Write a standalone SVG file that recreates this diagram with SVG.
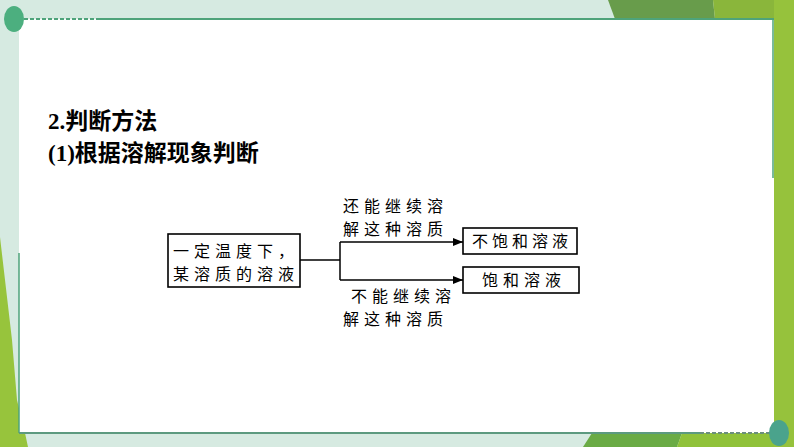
<svg xmlns="http://www.w3.org/2000/svg" width="794" height="447" viewBox="0 0 794 447">
<style>
.title{font-family:"Liberation Serif","Noto Sans CJK SC",serif;font-weight:bold;font-size:23px;fill:#000}
.t{font-family:"Noto Sans CJK SC","Liberation Sans",sans-serif;font-size:16px;fill:#000;letter-spacing:5px}
.box{fill:#fff;stroke:#000;stroke-width:1.6}
.ln{fill:none;stroke:#000;stroke-width:1.5}
.frame{stroke:#4ea37a;stroke-width:2;fill:none}
</style>
<defs>
<marker id="ah" viewBox="0 0 10 8" refX="10" refY="4" markerWidth="10" markerHeight="8" markerUnits="userSpaceOnUse" orient="auto">
<path d="M0,0 L10,4 L0,8 Z" fill="#000"/>
</marker>
</defs>
<g id="background">
<rect x="0" y="0" width="794" height="447" fill="#d6eae1"/>
<polygon points="608,0 713,0 715,19 615,19" fill="#689c4b"/>
<polygon points="713,0 776,0 776,19 715,19" fill="#8ab63b"/>
<polygon points="0,237 12,340 17,400 25,433 28,447 0,447" fill="#97c43c"/>
<polygon points="592,433 682,433 677,447 583,447" fill="#6aab45"/>
<polygon points="682,433 794,433 794,447 677,447" fill="#90c23a"/>
<rect x="774" y="0" width="20" height="447" fill="#96c23c"/>
<rect x="19" y="19" width="755" height="414" fill="#fff"/>
<line x1="24" y1="19" x2="97" y2="19" stroke="#4ea37a" stroke-width="2" stroke-dasharray="4,2"/>
<line x1="97" y1="19" x2="774" y2="19" class="frame"/>
<line x1="773" y1="19" x2="773" y2="178" stroke="#4ea37a" stroke-width="1.5"/>
<line x1="19" y1="253" x2="19" y2="433" stroke="#4ea37a" stroke-width="1.5"/>
<line x1="19" y1="433" x2="700" y2="433" stroke="#5c9a7f" stroke-width="2"/>
<line x1="700" y1="433" x2="772" y2="433" stroke="#6b8f7c" stroke-width="2" stroke-dasharray="4,2"/>
<ellipse cx="14" cy="19" rx="10" ry="13" fill="#4caf7f"/>
<ellipse cx="779" cy="433" rx="10" ry="13" fill="#4aa38c"/>
</g>
<g id="titles">
<text class="title" x="48" y="129">2.判断方法</text>
<text class="title" x="48" y="161">(1)根据溶解现象判断</text>
</g>
<g id="connectors">
<polyline class="ln" points="300,260 340,260"/>
<line class="ln" x1="340" y1="242" x2="340" y2="280"/>
<line class="ln" x1="340" y1="242" x2="463" y2="242" marker-end="url(#ah)"/>
<line class="ln" x1="340" y1="280" x2="463" y2="280" marker-end="url(#ah)"/>
<text class="t" x="343" y="212">还能继续溶</text>
<text class="t" x="343" y="235">解这种溶质</text>
<text class="t" x="351" y="302">不能继续溶</text>
<text class="t" x="343" y="325">解这种溶质</text>
</g>
<g id="node-solution">
<rect class="box" x="168" y="234" width="132" height="53"/>
<text class="t" x="173" y="257">一定温度下，</text>
<text class="t" x="173" y="280">某溶质的溶液</text>
</g>
<g id="node-unsaturated">
<rect class="box" x="463" y="228" width="114" height="26"/>
<text class="t" x="472" y="247" style="letter-spacing:4px">不饱和溶液</text>
</g>
<g id="node-saturated">
<rect class="box" x="463" y="267" width="116" height="26"/>
<text class="t" x="482" y="286" style="letter-spacing:5px">饱和溶液</text>
</g>
</svg>
